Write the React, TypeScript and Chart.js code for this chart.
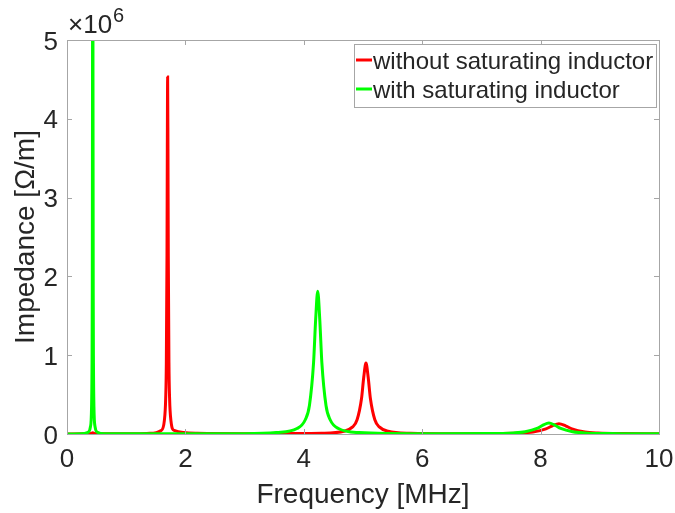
import React, { useEffect, useRef } from "react";
import { Chart, registerables } from "chart.js";

Chart.register(...registerables);

// Frequency in MHz, impedance in units of 10^6 Ω/m
const redFreq = [0, 0.3, 0.41, 0.435, 0.46, 0.6, 1.0, 1.4, 1.59, 1.645, 1.667, 1.678, 1.689, 1.6945, 1.7, 1.7055, 1.711, 1.722, 1.733, 1.755, 1.81, 2.2, 3.0, 3.8, 4.3, 4.675, 4.825, 4.9, 4.975, 5.0125, 5.05, 5.0875, 5.125, 5.2, 5.275, 5.425, 5.8, 6.5, 7.2, 7.65, 7.87, 8.09, 8.2, 8.31, 8.42, 8.53, 8.75, 8.97, 9.4, 10];
const redImpedance = [0, 0.002, 0.008, 0.015, 0.008, 0.002, 0.002, 0.008, 0.045, 0.174, 0.453, 0.906, 2.265, 3.62, 4.53, 3.62, 2.265, 0.906, 0.453, 0.174, 0.045, 0.008, 0.004, 0.006, 0.009, 0.035, 0.09, 0.18, 0.45, 0.72, 0.9, 0.72, 0.45, 0.18, 0.09, 0.035, 0.009, 0.003, 0.005, 0.013, 0.026, 0.065, 0.104, 0.13, 0.104, 0.065, 0.026, 0.013, 0.005, 0.002];

const greenFreq = [0, 0.235, 0.355, 0.395, 0.415, 0.423, 0.427, 0.431, 0.433, 0.435, 0.437, 0.439, 0.443, 0.447, 0.455, 0.475, 0.515, 0.635, 1.0, 2.0, 3.0, 3.535, 3.885, 4.025, 4.095, 4.165, 4.2, 4.235, 4.27, 4.305, 4.375, 4.445, 4.585, 4.935, 6.0, 7.14, 7.54, 7.74, 7.94, 8.04, 8.14, 8.24, 8.34, 8.54, 8.74, 9.14, 10];
const greenImpedance = [0, 0.0036, 0.022, 0.089, 0.346, 0.9, 1.8, 4.5, 7.2, 9, 7.2, 4.5, 1.8, 0.9, 0.346, 0.089, 0.022, 0.0036, 0.002, 0.002, 0.003, 0.018, 0.069, 0.181, 0.362, 0.905, 1.448, 1.81, 1.448, 0.905, 0.362, 0.181, 0.069, 0.018, 0.003, 0.0054, 0.014, 0.028, 0.07, 0.112, 0.14, 0.112, 0.07, 0.028, 0.014, 0.0054, 0.002];

const xTicks = [0, 2, 4, 6, 8, 10];
const yTicks = [0, 1, 2, 3, 4, 5];
const seriesLabels = ["without saturating inductor", "with saturating inductor"];
const seriesColors = ["#ff0000", "#00ff00"];
const xTitle = "Frequency [MHz]";
const yTitle = "Impedance [Ω/m]";
const exponentBase = "×10";
const exponentPower = "6";

const FONT = '"Liberation Sans", Arial, sans-serif';
const TEXT = "#262626";
const AXIS = "#a6a6a6";

const decorPlugin = {
  id: "decor",
  afterDatasetsDraw(chart: any) {
    const ctx = chart.ctx as CanvasRenderingContext2D;
    const { left, right, top, bottom } = chart.chartArea;
    const xs = chart.scales.x;
    const ys = chart.scales.y;
    ctx.save();
    // box
    ctx.strokeStyle = AXIS;
    ctx.lineWidth = 1;
    ctx.strokeRect(Math.round(left) + 0.5, Math.round(top) + 0.5, Math.round(right - left), Math.round(bottom - top));
    // ticks
    const tl = 5;
    ctx.beginPath();
    xTicks.forEach((t) => {
      const px = Math.round(xs.getPixelForValue(t)) + 0.5;
      ctx.moveTo(px, bottom);
      ctx.lineTo(px, bottom - tl);
      ctx.moveTo(px, top);
      ctx.lineTo(px, top + tl);
    });
    yTicks.forEach((t) => {
      const py = Math.round(ys.getPixelForValue(t)) + 0.5;
      ctx.moveTo(left, py);
      ctx.lineTo(left + tl, py);
      ctx.moveTo(right, py);
      ctx.lineTo(right - tl, py);
    });
    ctx.stroke();

    // tick labels
    ctx.fillStyle = TEXT;
    ctx.font = `26px ${FONT}`;
    ctx.textAlign = "center";
    ctx.textBaseline = "alphabetic";
    xTicks.forEach((t) => {
      ctx.fillText(String(t), xs.getPixelForValue(t), 467);
    });
    ctx.textAlign = "right";
    yTicks.forEach((t) => {
      ctx.fillText(String(t), left - 9, ys.getPixelForValue(t) + 9.5);
    });

    // exponent
    ctx.textAlign = "left";
    ctx.font = `26px ${FONT}`;
    ctx.fillText(exponentBase, 68, 33);
    const w = ctx.measureText(exponentBase).width;
    ctx.font = `20px ${FONT}`;
    ctx.fillText(exponentPower, 68 + w + 1, 22);

    // axis titles
    ctx.font = `28px ${FONT}`;
    ctx.textAlign = "center";
    ctx.fillText(xTitle, (left + right) / 2, 503);
    ctx.save();
    ctx.translate(34, (top + bottom) / 2);
    ctx.rotate(-Math.PI / 2);
    ctx.fillText(yTitle, 0, 0);
    ctx.restore();

    // legend
    const lx = 354, ly = 44, lw = 302, lh = 63;
    ctx.fillStyle = "#ffffff";
    ctx.fillRect(lx, ly, lw, lh);
    ctx.strokeStyle = AXIS;
    ctx.lineWidth = 1;
    ctx.strokeRect(lx + 0.5, ly + 0.5, lw, lh);
    ctx.font = `24px ${FONT}`;
    ctx.textAlign = "left";
    const rows = [60, 89];
    seriesLabels.forEach((lab, i) => {
      ctx.strokeStyle = seriesColors[i];
      ctx.lineWidth = 3;
      ctx.beginPath();
      ctx.moveTo(356, rows[i]);
      ctx.lineTo(372, rows[i]);
      ctx.stroke();
      ctx.fillStyle = TEXT;
      ctx.fillText(lab, 373, rows[i] + 8.5);
    });
    ctx.restore();
  },
};

export default function App() {
  const ref = useRef<HTMLCanvasElement>(null);
  useEffect(() => {
    if (!ref.current) return;
    const chart = new Chart(ref.current, {
      type: "line",
      data: {
        datasets: [
          {
            label: seriesLabels[0],
            data: redFreq.map((f, i) => ({ x: f, y: redImpedance[i] })),
            borderColor: seriesColors[0],
            borderWidth: 3,
            pointRadius: 0,
            cubicInterpolationMode: "monotone",
            fill: false,
            order: 2,
          },
          {
            label: seriesLabels[1],
            data: greenFreq.map((f, i) => ({ x: f, y: greenImpedance[i] })),
            borderColor: seriesColors[1],
            borderWidth: 3,
            pointRadius: 0,
            cubicInterpolationMode: "monotone",
            fill: false,
            order: 1,
          },
        ],
      },
      options: {
        responsive: false,
        animation: false,
        layout: { padding: { left: 67, right: 16, top: 40, bottom: 79 } },
        plugins: { legend: { display: false }, tooltip: { enabled: false } },
        scales: {
          x: { type: "linear", min: 0, max: 10, display: false },
          y: { type: "linear", min: 0, max: 5, display: false },
        },
      },
      plugins: [decorPlugin],
    });
    return () => chart.destroy();
  }, []);
  return (
    <div style={{ position: "fixed", left: 0, top: 0, width: 675, height: 513, background: "#fff" }}>
      <canvas ref={ref} width={675} height={513} />
    </div>
  );
}
